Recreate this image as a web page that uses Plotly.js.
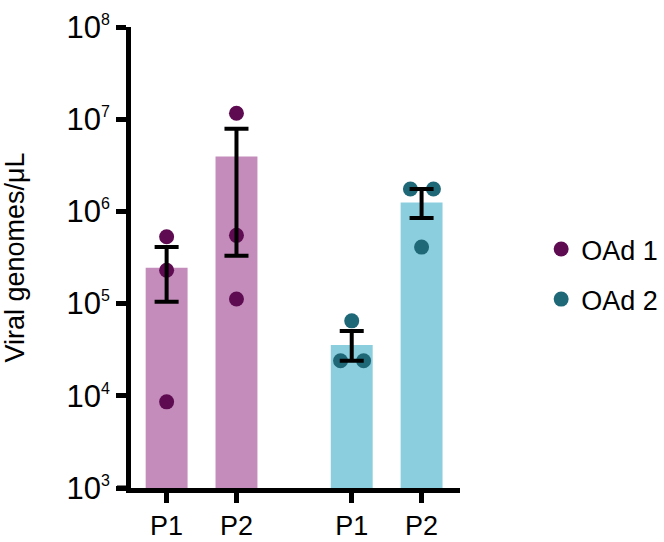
<!DOCTYPE html>
<html>
<head>
<meta charset="utf-8">
<script src="https://cdn.plot.ly/plotly-3.0.1.min.js"></script>
<style>html,body{margin:0;padding:0;background:#fff;}#chart{width:664px;height:542px;}</style>
</head>
<body>
<div id="chart"></div>
<script>
// ---- data ----
const groups = ["OAd 1", "OAd 2"];
const passages = ["P1", "P2"];
// bar heights (mean viral genomes/uL)
const meanOAd1 = [2.45e5, 3.95e6];
const meanOAd2 = [3.55e4, 1.25e6];
// error bar ends (mean +/- SEM)
const upperOAd1 = [4.1e5, 7.9e6];
const lowerOAd1 = [1.05e5, 3.3e5];
const upperOAd2 = [5.05e4, 1.75e6];
const lowerOAd2 = [2.4e4, 8.5e5];
// individual replicates
const pointsOAd1 = [[5.3e5, 2.3e5, 8.6e3], [1.16e7, 5.5e5, 1.12e5]];
const pointsOAd2 = [[6.5e4, 2.4e4, 2.4e4], [1.75e6, 1.75e6, 4.1e5]];
const yTickVals = [1e3, 1e4, 1e5, 1e6, 1e7, 1e8];
const yTickExp = ["3", "4", "5", "6", "7", "8"];

// ---- layout helpers ----
const groupStep = 2.65;                  // distance between group starts (x units)
const jitterOAd1 = [[0, 0, 0], [0, 0, 0]];
const jitterOAd2 = [[0, -0.16, 0.17], [-0.16, 0.17, 0]];
const barColors = ["#C38CBA", "#8BCFDF"];
const dotColors = ["#5E0B52", "#1F6878"];

const means = [meanOAd1, meanOAd2];
const uppers = [upperOAd1, upperOAd2];
const lowers = [lowerOAd1, lowerOAd2];
const points = [pointsOAd1, pointsOAd2];
const jitters = [jitterOAd1, jitterOAd2];

const traces = [];
const tickPos = [], tickTxt = [];
groups.forEach((g, gi) => {
  const xs = passages.map((p, i) => gi * groupStep + i);
  xs.forEach((x, i) => { tickPos.push(x); tickTxt.push(passages[i]); });
  traces.push({
    type: "bar", x: xs, y: means[gi], width: 0.6,
    marker: {color: barColors[gi], line: {width: 0}},
    showlegend: false, hoverinfo: "skip"
  });
});
groups.forEach((g, gi) => {
  const px = [], py = [];
  passages.forEach((p, i) => {
    points[gi][i].forEach((v, k) => { px.push(gi * groupStep + i + jitters[gi][i][k]); py.push(v); });
  });
  traces.push({
    type: "scatter", mode: "markers", x: px, y: py, name: g,
    legendgroup: g,
    marker: {color: dotColors[gi], size: 15, line: {width: 0}},
    showlegend: true
  });
});
groups.forEach((g, gi) => {
  const xs = passages.map((p, i) => gi * groupStep + i);
  traces.push({
    type: "scatter", mode: "markers", x: xs, y: means[gi],
    marker: {size: 0.1, color: "rgba(0,0,0,0)"},
    error_y: {
      type: "data", symmetric: false,
      array: means[gi].map((m, i) => uppers[gi][i] - m),
      arrayminus: means[gi].map((m, i) => m - lowers[gi][i]),
      color: "#000", thickness: 4, width: 12
    },
    showlegend: false, hoverinfo: "skip"
  });
});

const font = "Arial, 'Liberation Sans', sans-serif";
const layout = {
  width: 664, height: 542,
  margin: {l: 131, r: 204, t: 27, b: 54},
  paper_bgcolor: "#fff", plot_bgcolor: "#fff",
  font: {family: font, color: "#000", size: 26},
  showlegend: true,
  legend: {
    xref: "container", yref: "container",
    x: 0.815, y: 0.585, xanchor: "left", yanchor: "top",
    font: {size: 27, family: font},
    traceorder: "grouped", tracegroupgap: 12,
    bgcolor: "rgba(0,0,0,0)"
  },
  xaxis: {
    range: [-0.51, 4.2], showgrid: false, zeroline: false,
    showline: true, linewidth: 5, linecolor: "#000",
    ticks: "outside", ticklen: 10, tickwidth: 5, tickcolor: "#000",
    tickvals: tickPos, ticktext: tickTxt,
    tickfont: {size: 27, family: font}, fixedrange: true
  },
  yaxis: {
    type: "log", range: [3, 8], showgrid: false, zeroline: false,
    showline: true, linewidth: 5, linecolor: "#000",
    ticks: "outside", ticklen: 10, tickwidth: 5, tickcolor: "#000",
    tickvals: yTickVals,
    ticktext: yTickExp.map(e => "10<sup><span style='font-size:16px'>" + e + "</span></sup>"),
    tickfont: {size: 31, family: font},
    title: {text: "Viral genomes/μL", font: {size: 27, family: font}, standoff: 36},
    fixedrange: true
  },
  shapes: [{
    type: "line", xref: "paper", yref: "paper",
    x0: -14 / 329, x1: 0, y0: 0, y1: 0,
    line: {color: "#000", width: 5}
  }]
};
Plotly.newPlot("chart", traces, layout, {displayModeBar: false, staticPlot: true});
</script>
</body>
</html>
